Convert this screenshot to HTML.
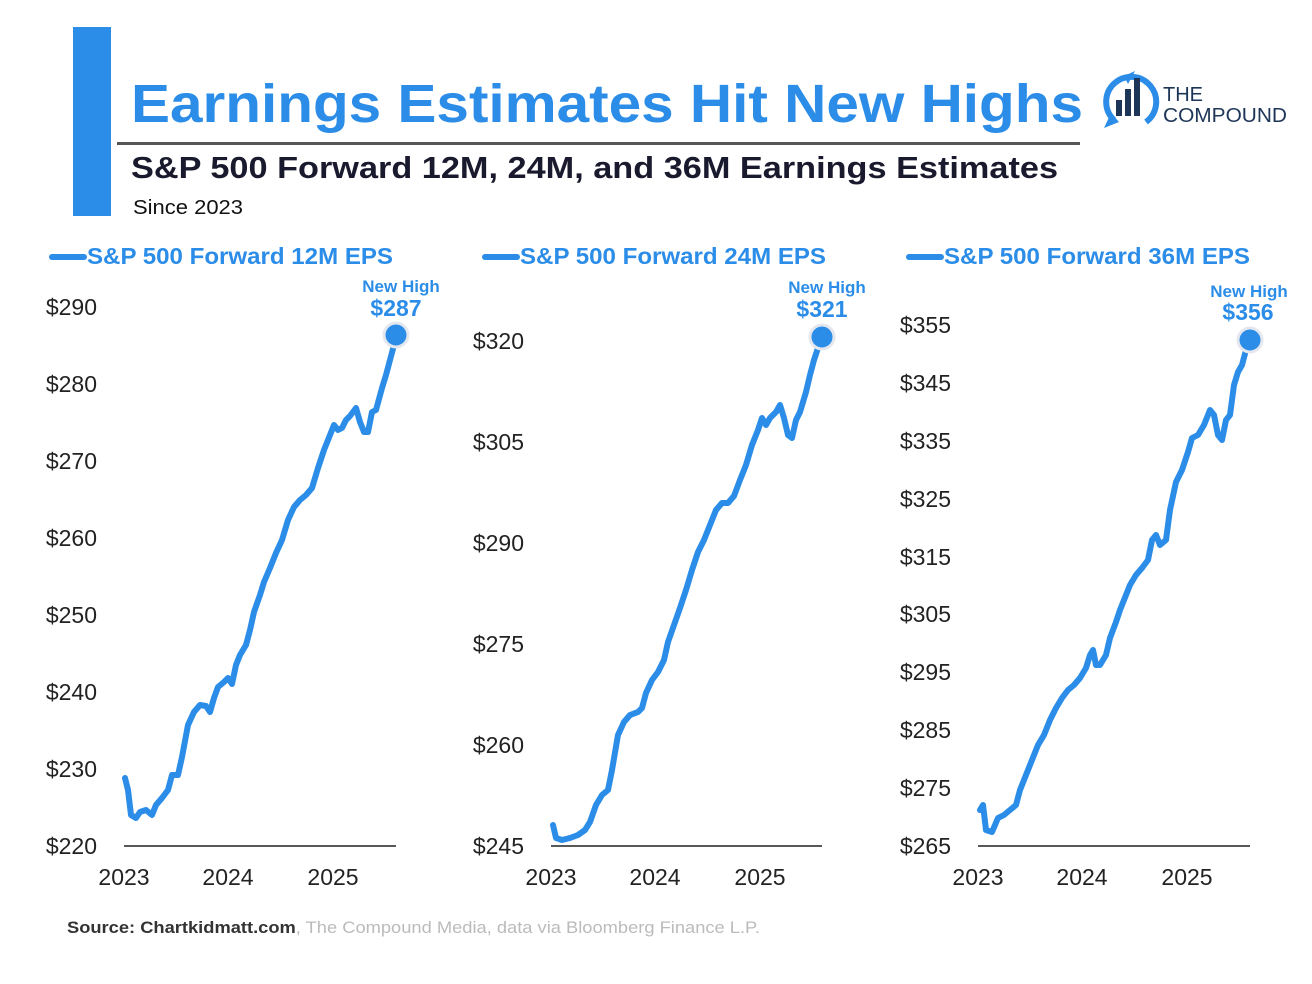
<!DOCTYPE html>
<html><head><meta charset="utf-8"><style>
html,body{margin:0;padding:0;background:#fff;}
svg{display:block;}
text{font-family:"Liberation Sans",sans-serif;}
</style></head><body>
<svg width="1312" height="984" viewBox="0 0 1312 984" xmlns="http://www.w3.org/2000/svg">
<rect width="1312" height="984" fill="#fff"/>
<rect x="73" y="27" width="38" height="189" fill="#2b8de8"/>
<text x="131" y="122" font-size="54" font-weight="bold" fill="#2b8de8" textLength="952" lengthAdjust="spacingAndGlyphs">Earnings Estimates Hit New Highs</text>
<rect x="117" y="142" width="963" height="3" fill="#555"/>
<text x="131" y="178" font-size="31" font-weight="bold" fill="#1a1a2e" textLength="927" lengthAdjust="spacingAndGlyphs">S&amp;P 500 Forward 12M, 24M, and 36M Earnings Estimates</text>
<text x="133" y="214" font-size="20" fill="#111" textLength="110" lengthAdjust="spacingAndGlyphs">Since 2023</text>
<g>
<path d="M1114 120 A25 25 0 1 1 1146 122" fill="none" stroke="#2b8de8" stroke-width="6"/>
<path d="M1104 128 L1111 113 L1119 122 Z" fill="#2b8de8"/>
<path d="M1124 76 L1135 71 L1128 84 Z" fill="#2b8de8"/>
<rect x="1116" y="100" width="6" height="16" fill="#1d3557"/>
<rect x="1125" y="89" width="6" height="27" fill="#1d3557"/>
<rect x="1134" y="78" width="6" height="38" fill="#1d3557"/>
<text x="1163" y="101" font-size="20" fill="#1d3557" textLength="40" lengthAdjust="spacingAndGlyphs">THE</text>
<text x="1163" y="122" font-size="20" fill="#1d3557" textLength="124" lengthAdjust="spacingAndGlyphs">COMPOUND</text>
</g>
<g stroke="#2b8de8" stroke-width="6" stroke-linecap="round">
<line x1="52" y1="257" x2="84" y2="257"/><line x1="485" y1="257" x2="517" y2="257"/><line x1="909" y1="257" x2="941" y2="257"/>
</g>
<g font-size="23" font-weight="bold" fill="#2b8de8">
<text x="87" y="264" textLength="306" lengthAdjust="spacingAndGlyphs">S&amp;P 500 Forward 12M EPS</text>
<text x="520" y="264" textLength="306" lengthAdjust="spacingAndGlyphs">S&amp;P 500 Forward 24M EPS</text>
<text x="944" y="264" textLength="306" lengthAdjust="spacingAndGlyphs">S&amp;P 500 Forward 36M EPS</text>
</g>
<g stroke="#222" stroke-width="1.5">
<line x1="124" y1="846" x2="396" y2="846"/><line x1="551" y1="846" x2="822" y2="846"/><line x1="978" y1="846" x2="1250" y2="846"/>
</g>
<g font-size="23" fill="#222" text-anchor="end">
<text x="97" y="315">$290</text><text x="97" y="392">$280</text><text x="97" y="469">$270</text><text x="97" y="546">$260</text><text x="97" y="623">$250</text><text x="97" y="700">$240</text><text x="97" y="777">$230</text><text x="97" y="854">$220</text>
<text x="524" y="349">$320</text><text x="524" y="450">$305</text><text x="524" y="551">$290</text><text x="524" y="652">$275</text><text x="524" y="753">$260</text><text x="524" y="854">$245</text>
<text x="951" y="333">$355</text><text x="951" y="391">$345</text><text x="951" y="449">$335</text><text x="951" y="507">$325</text><text x="951" y="565">$315</text><text x="951" y="622">$305</text><text x="951" y="680">$295</text><text x="951" y="738">$285</text><text x="951" y="796">$275</text><text x="951" y="854">$265</text>
</g>
<g font-size="23" fill="#222" text-anchor="middle">
<text x="124" y="885">2023</text><text x="228" y="885">2024</text><text x="333" y="885">2025</text>
<text x="551" y="885">2023</text><text x="655" y="885">2024</text><text x="760" y="885">2025</text>
<text x="978" y="885">2023</text><text x="1082" y="885">2024</text><text x="1187" y="885">2025</text>
</g>
<g fill="none" stroke="#2b8de8" stroke-width="6" stroke-linejoin="round" stroke-linecap="round">
<polyline points="125,778 128,790 131,815 136,818 140,812 146,810 152,815 156,805 162,798 168,790 172,775 178,775 182,757 188,725 194,712 200,705 206,706 210,712 214,698 218,687 224,682 228,678 232,684 236,665 240,655 246,645 250,630 254,612 260,595 264,582 270,568 276,553 282,540 288,520 294,507 300,500 306,495 312,488 318,468 324,450 330,435 334,425 338,430 342,428 346,420 350,416 356,408 360,422 364,432 368,432 372,412 376,410 382,388 386,375 390,360 394,345 396,335"/>
<polyline points="553,825 556,838 562,840 570,838 578,835 585,830 590,822 596,805 602,795 608,790 612,770 618,735 624,722 630,715 638,712 642,708 646,693 652,680 658,672 664,660 668,642 674,625 680,608 686,590 692,570 698,552 704,540 710,525 716,510 722,503 728,503 734,496 740,480 746,465 752,445 758,430 762,418 766,425 770,418 776,412 780,405 784,418 788,435 792,438 796,420 800,412 806,392 810,375 814,360 818,348 822,337"/>
<polyline points="980,810 983,805 986,830 992,832 998,818 1004,815 1010,810 1016,805 1020,790 1026,775 1032,760 1038,745 1044,735 1050,720 1056,708 1062,698 1068,690 1074,685 1080,678 1086,668 1090,655 1093,650 1096,665 1100,665 1106,655 1110,638 1116,622 1120,610 1126,595 1130,585 1136,575 1142,568 1148,560 1152,540 1156,535 1160,545 1166,540 1170,510 1176,482 1182,470 1188,452 1192,438 1198,435 1204,425 1210,410 1214,415 1218,435 1222,440 1226,420 1230,415 1234,385 1238,372 1242,365 1246,350 1250,340"/>
</g>
<g fill="#2b8de8" stroke="#e4e8ee" stroke-width="3">
<circle cx="396" cy="335" r="12"/><circle cx="822" cy="337" r="12"/><circle cx="1250" cy="340" r="12"/>
</g>
<g fill="#2b8de8" font-weight="bold" text-anchor="middle">
<text x="401" y="292" font-size="17">New High</text><text x="396" y="316" font-size="23">$287</text>
<text x="827" y="293" font-size="17">New High</text><text x="822" y="317" font-size="23">$321</text>
<text x="1249" y="297" font-size="17">New High</text><text x="1248" y="320" font-size="23">$356</text>
</g>
<text x="67" y="933" font-size="17" fill="#bbb" textLength="693" lengthAdjust="spacingAndGlyphs"><tspan font-weight="bold" fill="#333">Source: Chartkidmatt.com</tspan>, The Compound Media, data via Bloomberg Finance L.P.</text>
</svg>
</body></html>
